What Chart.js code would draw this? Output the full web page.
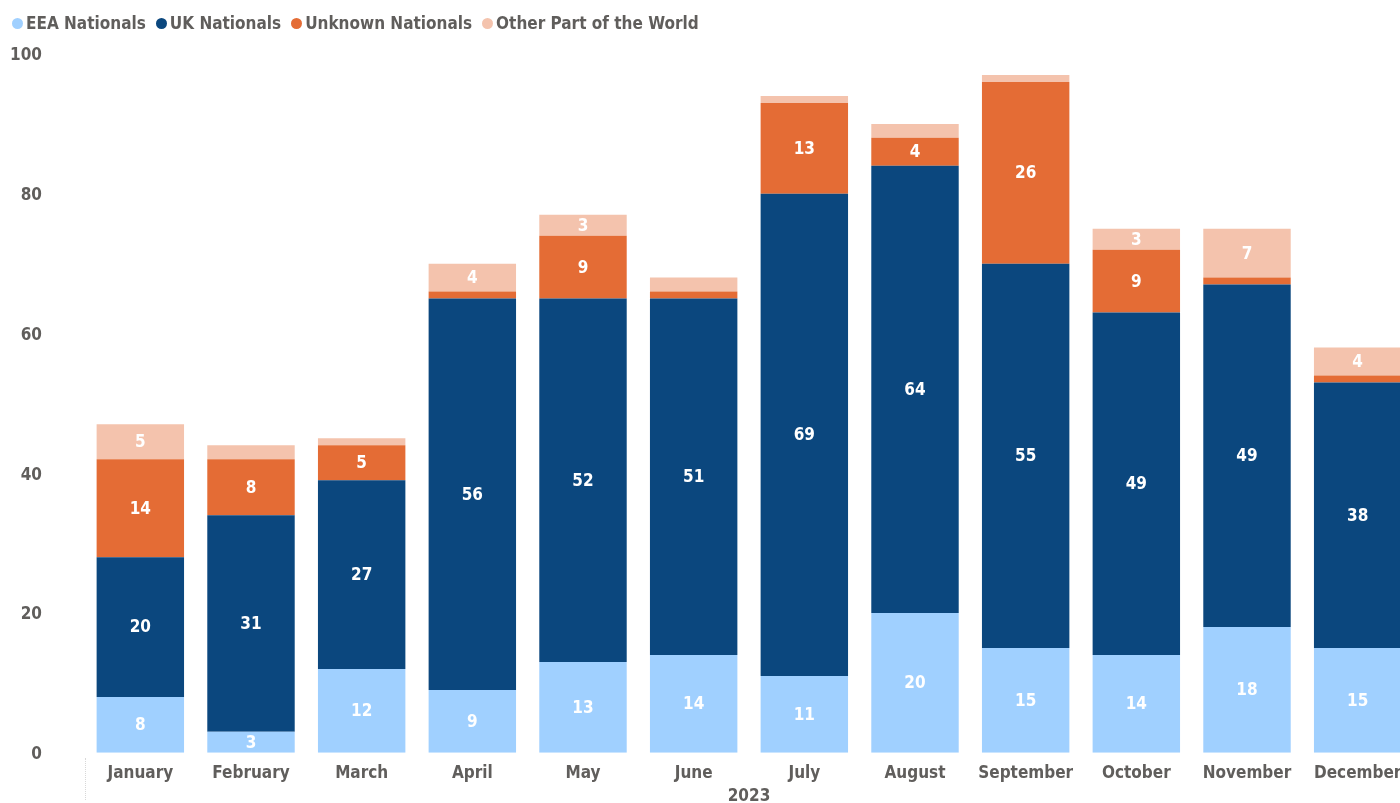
<!DOCTYPE html>
<html>
<head>
<meta charset="utf-8">
<script src="https://cdn.jsdelivr.net/npm/chart.js@4/dist/chart.umd.min.js"></script>
<style>
  html, body { margin: 0; padding: 0; background: #fff; overflow: hidden; width: 1400px; height: 803px; }
  #wrap { position: absolute; left: 0; top: 0; width: 1413px; height: 806px; }
  #legend { position: absolute; left: 12px; top: 13px; display: flex; align-items: center;
    font-family: "DejaVu Sans Condensed", "DejaVu Sans", sans-serif; font-weight: bold; font-size: 17px; color: #605e5c; z-index: 2; }
  #legend .item { display: flex; align-items: center; margin-right: 10px; }
  #legend .dot { width: 11px; height: 11px; border-radius: 50%; margin-right: 3px; }
  #dots { position: absolute; left: 85px; top: 758px; height: 42px; border-left: 1px dotted #d8d8d8; }
  canvas { display: block; }
</style>
</head>
<body>
<div id="wrap">
  <div id="legend"></div>
  <div id="dots"></div>
  <canvas id="c" width="1413" height="806"></canvas>
</div>
<script>
const categories = ["January","February","March","April","May","June","July","August","September","October","November","December"];
const seriesNames = ["EEA Nationals","UK Nationals","Unknown Nationals","Other Part of the World"];
const eeaNationals     = [8, 3, 12, 9, 13, 14, 11, 20, 15, 14, 18, 15];
const ukNationals      = [20, 31, 27, 56, 52, 51, 69, 64, 55, 49, 49, 38];
const unknownNationals = [14, 8, 5, 1, 9, 1, 13, 4, 26, 9, 1, 1];
const otherWorld       = [5, 2, 1, 4, 3, 2, 1, 2, 1, 3, 7, 4];
const yTicks = [0, 20, 40, 60, 80, 100];
const xTitle = "2023";

const colors = ["#a0d0ff", "#0b477e", "#e46c35", "#f4c3ad"];
const FONT = '"DejaVu Sans Condensed", "DejaVu Sans", sans-serif';
const GREY = "#605e5c";

// HTML legend
const lg = document.getElementById('legend');
seriesNames.forEach((n, i) => {
  const it = document.createElement('div'); it.className = 'item';
  const d = document.createElement('span'); d.className = 'dot'; d.style.background = colors[i];
  const t = document.createElement('span'); t.textContent = n;
  it.appendChild(d); it.appendChild(t); lg.appendChild(it);
});

const labelPlugin = {
  id: 'segLabels',
  afterDatasetsDraw(chart) {
    const ctx = chart.ctx;
    ctx.save();
    ctx.font = 'bold 17px ' + FONT;
    ctx.fillStyle = '#ffffff';
    ctx.textAlign = 'center';
    ctx.textBaseline = 'middle';
    chart.data.datasets.forEach((ds, di) => {
      const meta = chart.getDatasetMeta(di);
      meta.data.forEach((bar, i) => {
        const v = ds.data[i];
        if (v >= 3) {
          ctx.fillText(String(v), bar.x, (bar.y + bar.base) / 2 + 1);
        }
      });
    });
    ctx.restore();
  }
};

const seriesData = [eeaNationals, ukNationals, unknownNationals, otherWorld];
new Chart(document.getElementById('c'), {
  type: 'bar',
  data: {
    labels: categories,
    datasets: seriesNames.map((n, i) => ({
      label: n,
      data: seriesData[i],
      backgroundColor: colors[i],
      borderWidth: 0,
      categoryPercentage: 1,
      barPercentage: 0.79
    }))
  },
  options: {
    responsive: false,
    animation: false,
    layout: { padding: { top: 54, left: 0, right: 0, bottom: 0 } },
    plugins: { legend: { display: false }, tooltip: { enabled: false } },
    scales: {
      x: {
        stacked: true,
        grid: { display: false, drawTicks: false },
        border: { display: false },
        ticks: { color: GREY, font: { family: FONT, size: 17, weight: 'bold', lineHeight: 1.2 }, padding: 11, maxRotation: 0, autoSkip: false },
        title: { display: true, text: xTitle, color: GREY, font: { family: FONT, size: 17, weight: 'bold', lineHeight: 1.0 }, padding: { top: -7, bottom: -5 } }
      },
      y: {
        stacked: true,
        min: 0, max: 100,
        afterBuildTicks(s) { s.ticks = yTicks.map(v => ({ value: v })); },
        afterFit(s) { s.width = 85; },
        grid: { display: false, drawTicks: false },
        border: { display: false },
        ticks: { color: GREY, font: { family: FONT, size: 17, weight: 'bold' }, padding: 43, labelOffset: 2 }
      }
    }
  },
  plugins: [labelPlugin]
});
</script>
</body>
</html>
